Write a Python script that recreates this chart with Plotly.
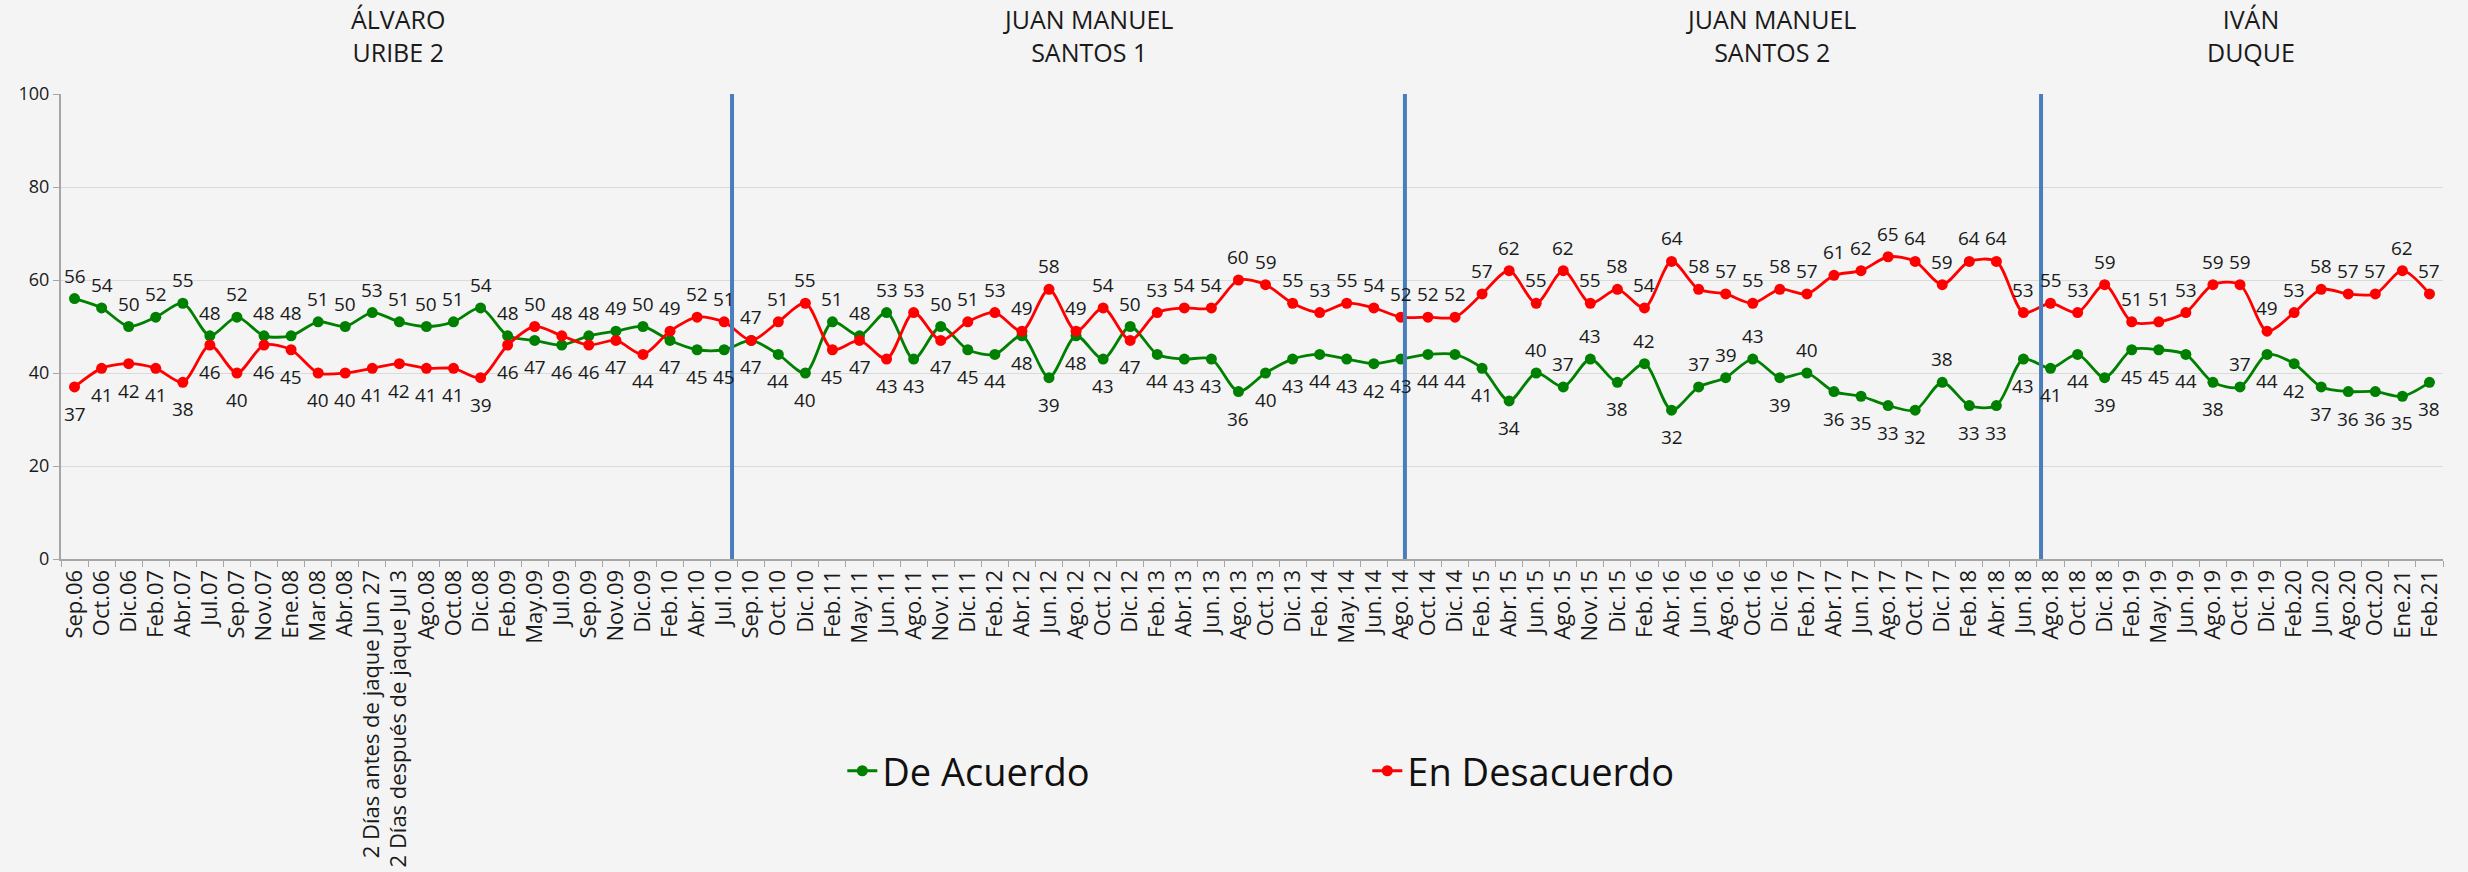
import plotly.graph_objects as go

# Survey rounds (x axis)
categories = [
    "Sep.06", "Oct.06", "Dic.06", "Feb.07", "Abr.07", "Jul.07", "Sep.07", "Nov.07",
    "Ene.08", "Mar.08", "Abr.08", "2 Días antes de jaque Jun 27",
    "2 Días después de jaque Jul 3", "Ago.08", "Oct.08", "Dic.08", "Feb.09", "May.09",
    "Jul.09", "Sep.09", "Nov.09", "Dic.09", "Feb.10", "Abr.10", "Jul.10", "Sep.10",
    "Oct.10", "Dic.10", "Feb.11", "May.11", "Jun.11", "Ago.11", "Nov.11", "Dic.11",
    "Feb.12", "Abr.12", "Jun.12", "Ago.12", "Oct.12", "Dic.12", "Feb.13", "Abr.13",
    "Jun.13", "Ago.13", "Oct.13", "Dic.13", "Feb.14", "May.14", "Jun.14", "Ago.14",
    "Oct.14", "Dic.14", "Feb.15", "Abr.15", "Jun.15", "Ago.15", "Nov.15", "Dic.15",
    "Feb.16", "Abr.16", "Jun.16", "Ago.16", "Oct.16", "Dic.16", "Feb.17", "Abr.17",
    "Jun.17", "Ago.17", "Oct.17", "Dic.17", "Feb.18", "Abr.18", "Jun.18", "Ago.18",
    "Oct.18", "Dic.18", "Feb.19", "May.19", "Jun.19", "Ago.19", "Oct.19", "Dic.19",
    "Feb.20", "Jun.20", "Ago.20", "Oct.20", "Ene.21", "Feb.21",
]

de_acuerdo = [
    56, 54, 50, 52, 55, 48, 52, 48, 48, 51, 50, 53, 51, 50, 51, 54, 48, 47, 46, 48,
    49, 50, 47, 45, 45, 47, 44, 40, 51, 48, 53, 43, 50, 45, 44, 48, 39, 48, 43, 50,
    44, 43, 43, 36, 40, 43, 44, 43, 42, 43, 44, 44, 41, 34, 40, 37, 43, 38, 42, 32,
    37, 39, 43, 39, 40, 36, 35, 33, 32, 38, 33, 33, 43, 41, 44, 39, 45, 45, 44, 38,
    37, 44, 42, 37, 36, 36, 35, 38,
]

en_desacuerdo = [
    37, 41, 42, 41, 38, 46, 40, 46, 45, 40, 40, 41, 42, 41, 41, 39, 46, 50, 48, 46,
    47, 44, 49, 52, 51, 47, 51, 55, 45, 47, 43, 53, 47, 51, 53, 49, 58, 49, 54, 47,
    53, 54, 54, 60, 59, 55, 53, 55, 54, 52, 52, 52, 57, 62, 55, 62, 55, 58, 54, 64,
    58, 57, 55, 58, 57, 61, 62, 65, 64, 59, 64, 64, 53, 55, 53, 59, 51, 51, 53, 59,
    59, 49, 53, 58, 57, 57, 62, 57,
]

# Rounds where the "De Acuerdo" label sits above its point even though it is the lower value
green_label_above = ["Jun.15", "Ago.15", "Nov.15", "Feb.16", "Jun.16", "Ago.16",
                     "Oct.16", "Feb.17", "Dic.17", "Oct.19"]

# Presidential terms shown over the chart
term_names = ["ÁLVARO<br>URIBE 2", "JUAN MANUEL<br>SANTOS 1",
              "JUAN MANUEL<br>SANTOS 2", "IVÁN<br>DUQUE"]
term_centers = [0.1415, 0.4311, 0.7179, 0.9194]
# Boundaries between terms, in category-index units
term_breaks = [24.29, 49.15, 72.65]

GREEN = "#008000"
RED = "#ff0000"
FONT = "Open Sans"

fig = go.Figure()
for name, vals, color in [("De Acuerdo", de_acuerdo, GREEN),
                          ("En Desacuerdo", en_desacuerdo, RED)]:
    fig.add_trace(go.Scatter(
        x=categories, y=vals, name=name, mode="lines+markers",
        line=dict(color=color, width=2.8, shape="spline", smoothing=0.8),
        marker=dict(color=color, size=11),
        hoverinfo="x+y",
    ))

# Value labels: higher series above, lower series below
annotations = []
for cat, g, r in zip(categories, de_acuerdo, en_desacuerdo):
    g_up = g > r or cat in green_label_above
    r_up = r >= g
    for val, up in [(g, g_up), (r, r_up)]:
        annotations.append(dict(
            x=cat, y=val, xref="x", yref="y", text=str(val), showarrow=False,
            yshift=23 if up else -27, font=dict(family=FONT, size=19, color="#1a1a1a"),
        ))

for name, xc in zip(term_names, term_centers):
    annotations.append(dict(
        x=xc, y=1.126, xref="paper", yref="paper", text=name, showarrow=False,
        xanchor="center", yanchor="middle",
        font=dict(family=FONT, size=25, color="#1a1a1a"),
    ))

shapes = [dict(type="line", xref="x", yref="paper", x0=b, x1=b, y0=0, y1=1,
               line=dict(color="#4a7ebb", width=4)) for b in term_breaks]

fig.update_layout(
    width=2468, height=872,
    margin=dict(l=61, r=25, t=94, b=313, autoexpand=False),
    paper_bgcolor="#f4f4f4", plot_bgcolor="rgba(0,0,0,0)",
    font=dict(family=FONT, color="#1a1a1a"),
    showlegend=True,
    legend=dict(orientation="h", x=0.328, xanchor="left", y=-0.456, yanchor="middle",
                font=dict(family=FONT, size=38, color="#111111"),
                entrywidth=480, bgcolor="rgba(0,0,0,0)"),
    annotations=annotations,
    shapes=shapes,
    xaxis=dict(
        type="category", range=[-0.5, len(categories) - 0.5], automargin=False,
        tickangle=-90, tickfont=dict(family=FONT, size=22, color="#1a1a1a"),
        showline=True, linecolor="#a6a6a6", linewidth=2,
        ticks="outside", tickson="boundaries", ticklen=6, tickcolor="#a6a6a6",
        showgrid=False, zeroline=False,
    ),
    yaxis=dict(
        range=[0, 100], dtick=20, automargin=False,
        tickfont=dict(family=FONT, size=18, color="#1a1a1a"),
        showline=True, linecolor="#a6a6a6", linewidth=2,
        ticks="outside", ticklen=6, tickcolor="#a6a6a6",
        showgrid=True, gridcolor="#dadada", gridwidth=1, zeroline=False,
    ),
)

fig.write_html("out.html")
